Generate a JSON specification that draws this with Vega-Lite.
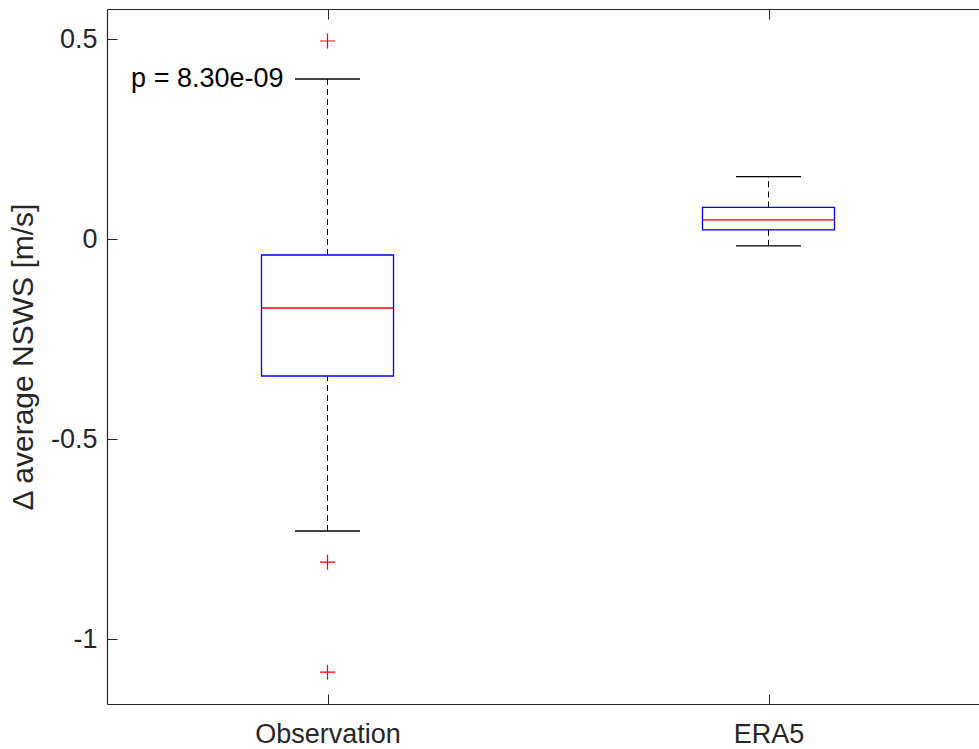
{
  "$schema": "https://vega.github.io/schema/vega-lite/v6.json",
  "width": 872,
  "height": 695,
  "autosize": "none",
  "padding": {"left": 107, "top": 9, "right": 0, "bottom": 45},
  "background": "white",
  "config": {
    "view": {"stroke": null},
    "font": "Liberation Sans",
    "axis": {
      "labelFont": "Liberation Sans",
      "titleFont": "Liberation Sans",
      "labelFontSize": 27,
      "titleFontSize": 30,
      "labelColor": "#262626",
      "titleColor": "#262626",
      "domainColor": "#262626",
      "tickColor": "#262626",
      "domainWidth": 1.2,
      "tickWidth": 1,
      "grid": false,
      "titleFontWeight": "normal"
    }
  },
  "datasets": {
    "stats": [
      {"group": "Observation", "lower": -0.73, "q1": -0.3425, "median": -0.1725, "q3": -0.04, "upper": 0.40},
      {"group": "ERA5", "lower": -0.017, "q1": 0.023, "median": 0.048, "q3": 0.079, "upper": 0.156}
    ],
    "outliers": [
      {"group": "Observation", "value": 0.495},
      {"group": "Observation", "value": -0.808},
      {"group": "Observation", "value": -1.083}
    ],
    "annot": [
      {"group": "Observation", "value": 0.40, "label": "p = 8.30e-09"}
    ]
  },
  "layer": [
    {
      "data": {"name": "stats"},
      "mark": {"type": "rule", "color": "black", "strokeWidth": 1, "strokeDash": [6, 4]},
      "encoding": {
        "x": {
          "field": "group", "type": "nominal",
          "scale": {"type": "point", "domain": ["Observation", "ERA5"], "range": [0, 882], "padding": 0.5},
          "axis": {"title": null, "orient": "bottom", "labelAngle": 0, "tickSize": -10, "labelPadding": 27}
        },
        "y": {
          "field": "q3", "type": "quantitative",
          "scale": {"domain": [-1.1625, 0.575], "nice": false, "zero": false},
          "axis": {"title": "Δ average NSWS [m/s]", "orient": "left", "values": [-1, -0.5, 0, 0.5], "tickSize": -10, "labelPadding": 20, "titlePadding": 12, "labelExpr": "'' + datum.value"}
        },
        "y2": {"field": "upper"}
      }
    },
    {
      "data": {"name": "stats"},
      "mark": {"type": "rule", "color": "black", "strokeWidth": 1, "strokeDash": [6, 4]},
      "encoding": {
        "x": {"field": "group", "type": "nominal", "axis": null},
        "y": {"field": "lower", "type": "quantitative", "axis": null},
        "y2": {"field": "q1"}
      }
    },
    {
      "data": {"name": "stats"},
      "mark": {"type": "bar", "size": 132, "fill": "white", "fillOpacity": 0, "stroke": "#0000ff", "strokeWidth": 1.3},
      "encoding": {
        "x": {"field": "group", "type": "nominal", "axis": null},
        "y": {"field": "q1", "type": "quantitative", "axis": null},
        "y2": {"field": "q3"}
      }
    },
    {
      "data": {"name": "stats"},
      "mark": {"type": "tick", "orient": "horizontal", "size": 132, "thickness": 1.3, "color": "#ff0000", "opacity": 1},
      "encoding": {
        "x": {"field": "group", "type": "nominal", "axis": null},
        "y": {"field": "median", "type": "quantitative", "axis": null}
      }
    },
    {
      "data": {"name": "stats"},
      "mark": {"type": "tick", "orient": "horizontal", "size": 65, "thickness": 1.3, "color": "black", "opacity": 1},
      "encoding": {
        "x": {"field": "group", "type": "nominal", "axis": null},
        "y": {"field": "upper", "type": "quantitative", "axis": null}
      }
    },
    {
      "data": {"name": "stats"},
      "mark": {"type": "tick", "orient": "horizontal", "size": 65, "thickness": 1.3, "color": "black", "opacity": 1},
      "encoding": {
        "x": {"field": "group", "type": "nominal", "axis": null},
        "y": {"field": "lower", "type": "quantitative", "axis": null}
      }
    },
    {
      "data": {"name": "outliers"},
      "mark": {"type": "point", "shape": "M-1,0L1,0M0,-1L0,1", "size": 225, "filled": false, "stroke": "#ff0000", "strokeWidth": 1.2, "opacity": 1},
      "encoding": {
        "x": {"field": "group", "type": "nominal", "axis": {"orient": "top", "title": null, "labels": false, "tickSize": -10}},
        "y": {"field": "value", "type": "quantitative", "axis": {"orient": "right", "title": null, "labels": false, "tickSize": -10, "offset": 10, "values": [-1, -0.5, 0, 0.5]}}
      }
    },
    {
      "data": {"name": "annot"},
      "mark": {"type": "text", "align": "right", "baseline": "middle", "dx": -44, "fontSize": 27, "font": "Liberation Sans", "color": "black"},
      "encoding": {
        "x": {"field": "group", "type": "nominal", "axis": null},
        "y": {"field": "value", "type": "quantitative", "axis": null},
        "text": {"field": "label"}
      }
    }
  ],
  "resolve": {"axis": {"x": "independent", "y": "independent"}}
}
